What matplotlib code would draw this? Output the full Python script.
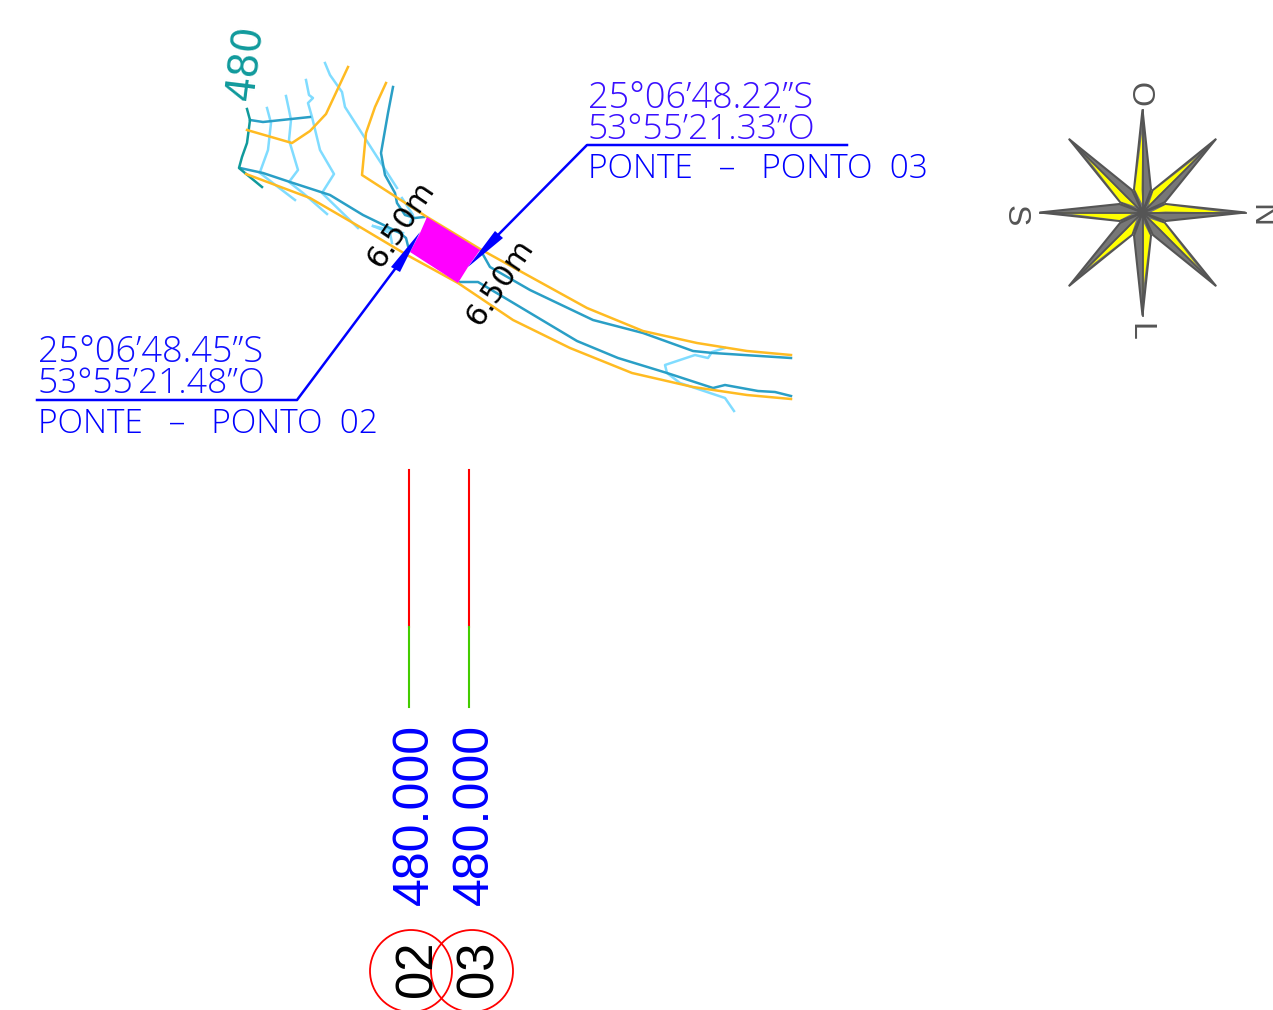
import numpy as np
from matplotlib import pyplot as plt
from matplotlib.patches import Polygon, Circle

ORANGE = '#ffbb22'
STREAM = '#2a9fc6'
LIGHT = '#80dcff'
TEAL = '#109a9c'
BLUE = '#0000ff'

# roads / margins (picture pixels)
orange_a = [(247,130),(292,143),(310,131),(326,114),(348,67)]
orange_b = [(386,83),(375,107),(366,133),(362,175),(427,217),(480,249),(587,308),(643,331),(697,343),(747,351),(791,355)]
orange_c = [(246,174),(310,198),(360,227),(407,255),(458,283),(513,320),(570,348),(632,373),(693,387),(747,395),(791,399)]

# river banks
stream_a = [(240,168),(263,173),(290,182),(330,195),(363,215),(400,233),(406,238),(408,246)]
stream_b = [(393,87),(388,113),(381,153),(385,175),(395,193),(397,203),(405,215),(415,218),(424,217)]
stream_c = [(481,251),(490,267),(530,290),(593,320),(643,333),(693,351),(713,353),(791,358)]
stream_d = [(460,282),(478,282),(500,295),(577,341),(618,358),(667,373),(713,388),(725,385),(758,391),(775,392),(791,396)]
stream_e = [(250,120),(263,122),(310,117)]
teal_edge = [(247,109),(250,120),(247,143),(242,157),(239,168),(245,173),(262,187)]

# small tributaries
light_lines = [
    [(267,108),(271,123),(268,150),(260,172)],
    [(260,173),(278,187),(295,200)],
    [(286,96),(289,110),(291,120),(289,140),(298,170),(289,182),(303,193),(327,214)],
    [(306,80),(309,95),(313,98),(308,103),(312,117),(320,150),(334,174),(322,193),(358,228)],
    [(325,63),(330,75),(342,92),(345,107),(363,135),(397,188)],
    [(402,198),(413,215),(410,223)],
    [(373,226),(403,233)],
    [(373,226),(390,233),(392,243)],
    [(725,348),(712,352),(708,358),(695,355),(665,365),(667,373),(680,383),(725,398),(734,411)],
]

bridge = [(427,217),(480,250),(468,267),(458,283),(410,252),(420,233)]

# leaders with their arrow heads
leader_02 = [(37,400),(297,400),(395,269)]
leader_03 = [(847,145),(587,145),(499,234)]
arrow_02 = [(391,267),(400,272),(420,232)]
arrow_03 = [(495,231),(503,238),(468,267)]

# level markers
stations = ['02', '03']
levels = ['480.000', '480.000']
station_x = [409, 469]
circle_x = [411, 472]
line_top = 470
line_mid = 627
line_bot = 707

# compass
compass_c = (1142.5, 212.5)
compass_len = [103, 103.5]
compass_labels = ['O', 'N', 'L', 'S']

fig = plt.figure(figsize=(12.73, 10.10), dpi=100)
ax = fig.add_axes([0, 0, 1, 1])
ax.set_xlim(0, 1273)
ax.set_ylim(1010, 0)
ax.axis('off')

def path(pts, color, lw=1.8):
    pts = np.array(pts)
    ax.plot(pts[:,0], pts[:,1], color=color, lw=lw, solid_joinstyle='round')

for l in light_lines:
    path(l, LIGHT)
for l in [stream_a, stream_b, stream_c, stream_d, stream_e]:
    path(l, STREAM)
path(teal_edge, TEAL)
ax.add_patch(Polygon(bridge, closed=True, fc='#ff00ff', ec='none', zorder=3))
for l in [orange_a, orange_b, orange_c]:
    path(l, ORANGE)

path(leader_02, BLUE, 1.8)
path(leader_03, BLUE, 1.8)
ax.add_patch(Polygon(arrow_02, closed=True, fc=BLUE, ec='none', zorder=4))
ax.add_patch(Polygon(arrow_03, closed=True, fc=BLUE, ec='none', zorder=4))

tf = ['Open Sans', 'DejaVu Sans']
ax.text(38, 352, '25°06’48.45”S', color='#1010ff', fontsize=26, va='center', family=tf, weight='light')
ax.text(38, 384, '53°55’21.48”O', color='#1010ff', fontsize=25.5, va='center', family=tf, weight='light')
ax.text(38, 424, 'PONTE   –   PONTO  02', color=BLUE, fontsize=24, va='center', family=tf, weight='light')
ax.text(588, 98, '25°06’48.22”S', color='#3a10ff', fontsize=26, va='center', family=tf, weight='light')
ax.text(588, 130, '53°55’21.33”O', color='#3a10ff', fontsize=25.5, va='center', family=tf, weight='light')
ax.text(588, 169, 'PONTE   –   PONTO  03', color=BLUE, fontsize=24, va='center', family=tf, weight='light')

ax.text(246, 63, '480', color=TEAL, fontsize=28.5, rotation=83, ha='center', va='center', rotation_mode='anchor')
ax.text(401, 224, '6.50m', color='black', fontsize=22, rotation=56, ha='center', va='center', rotation_mode='anchor')
ax.text(500, 282, '6.50m', color='black', fontsize=22, rotation=56, ha='center', va='center', rotation_mode='anchor')

for i in range(2):
    x = station_x[i]
    ax.plot([x, x], [line_top, line_mid], color='#ff0000', lw=1.5)
    ax.plot([x, x], [line_mid, line_bot], color='#44cc00', lw=1.5)
    ax.text(x + 5.5, 814, levels[i], color=BLUE, fontsize=36, rotation=90, ha='center', va='center',
            family='Liberation Sans', rotation_mode='anchor')
    ax.add_patch(Circle((circle_x[i], 971), 41, fc='none', ec='#ff0000', lw=1.3))
    ax.text(circle_x[i] + 7, 969, stations[i], color='black', fontsize=36.5, rotation=90, ha='center', va='center',
            family='Liberation Sans', rotation_mode='anchor')

# compass rose: eight kites, yellow on the left hand side of each
c = np.array(compass_c)
for k in range(8):
    a = np.radians(45 * k)
    d = np.array([np.sin(a), -np.cos(a)])
    n = np.array([d[1], -d[0]])
    L = compass_len[k % 2]
    tip = c + d * L
    sh_l = c + d * 23 + n * 8.5
    sh_r = c + d * 23 - n * 8.5
    ax.add_patch(Polygon([c, sh_l, tip, sh_r], closed=True, fc='#777777', ec='#555555', lw=1.5, zorder=5))
    ax.add_patch(Polygon([c + d * 8, c + d * 23 + n * 7.5, c + d * L * 0.8, c + d * 23 + n * 1],
                         closed=True, fc='#ffff00', ec='none', zorder=6))
    ax.plot([c[0], tip[0]], [c[1], tip[1]], color='#555555', lw=1.3, zorder=6)
ax.add_patch(Circle(compass_c, 5, fc='#555555', ec='none', zorder=7))

label_pos = [(1139, 94), (1260, 216), (1139, 332), (1015, 216)]
for s, p in zip(compass_labels, label_pos):
    ax.text(p[0], p[1], s, color='#555555', fontsize=23, rotation=-90, ha='center', va='center',
            family='Liberation Sans', rotation_mode='anchor')

fig.savefig('out.png', dpi=100)
